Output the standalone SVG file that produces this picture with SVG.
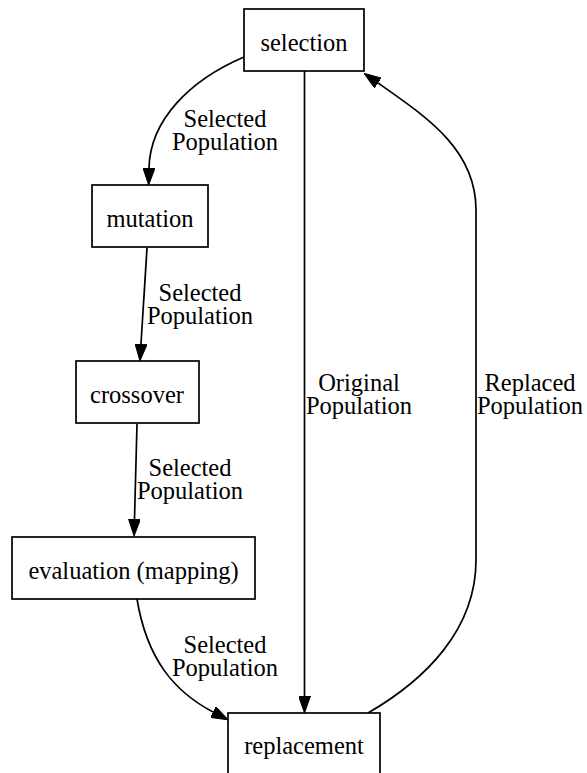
<svg xmlns="http://www.w3.org/2000/svg" width="587" height="773" viewBox="0 0 587 773">
  <style>
    .node rect { fill: #ffffff; stroke: #000000; stroke-width: 1.7; }
    .node text, .label { font-family: 'Liberation Serif', 'DejaVu Serif', serif; font-size: 24.5px; fill: #000000; text-anchor: middle; }
    .edge { fill: none; stroke: #000000; stroke-width: 1.7; marker-end: url(#arrow); }
  </style>
  <defs>
    <marker id="arrow" markerUnits="userSpaceOnUse" viewBox="0 0 17 12" refX="0" refY="6" markerWidth="17" markerHeight="12" orient="auto">
      <path d="M0,0 L17,6 L0,12 Z" fill="#000000" stroke="#000000" stroke-width="1"/>
    </marker>
  </defs>
  <rect width="587" height="773" fill="#ffffff"/>

  <!-- connectors -->
  <g id="edges">
    <path class="edge" d="M244,57 C190,80 150,120 149,168"/>
    <path class="edge" d="M147,248 L141,344"/>
    <path class="edge" d="M137,424 L134.5,519"/>
    <path class="edge" d="M137,599 C147,660 175,692 213,712"/>
    <path class="edge" d="M304.5,71 L304.5,696"/>
    <path class="edge" d="M368,713 C425,680 476,630 476,560 L476,210 C476,150 428,118 378,83"/>

    <text class="label" x="225" y="127">Selected</text>
    <text class="label" x="225" y="150">Population</text>
    <text class="label" x="200" y="301">Selected</text>
    <text class="label" x="200" y="324">Population</text>
    <text class="label" x="190" y="476">Selected</text>
    <text class="label" x="190" y="499">Population</text>
    <text class="label" x="225" y="653">Selected</text>
    <text class="label" x="225" y="676">Population</text>
    <text class="label" x="359" y="391">Original</text>
    <text class="label" x="359" y="414">Population</text>
    <text class="label" x="530" y="391">Replaced</text>
    <text class="label" x="530" y="414">Population</text>
  </g>

  <!-- nodes -->
  <g id="selection" class="node">
    <rect x="244" y="9" width="120" height="62"/>
    <text x="304" y="51">selection</text>
  </g>
  <g id="mutation" class="node">
    <rect x="92" y="185" width="116" height="62"/>
    <text x="150" y="227">mutation</text>
  </g>
  <g id="crossover" class="node">
    <rect x="76" y="361" width="123" height="62"/>
    <text x="137" y="403">crossover</text>
  </g>
  <g id="evaluation" class="node">
    <rect x="12" y="537" width="243" height="62"/>
    <text x="133.5" y="579">evaluation (mapping)</text>
  </g>
  <g id="replacement" class="node">
    <rect x="228" y="713" width="152" height="62"/>
    <text x="304" y="754">replacement</text>
  </g>
</svg>
